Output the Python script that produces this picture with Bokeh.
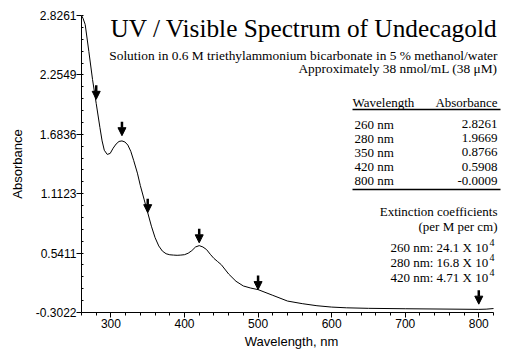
from bokeh.plotting import figure
from bokeh.models import (Range1d, FixedTicker, Label, Arrow, NormalHead, ColumnDataSource)
from bokeh.embed import file_html
from bokeh.resources import INLINE

# ---- data ----
wavelength = [260, 262, 265, 270, 275, 280, 285, 288, 291, 295, 299, 303, 307, 311, 315, 319,
              323, 327, 331, 336, 340, 345, 350, 355, 360, 365, 370, 375, 380, 385, 390, 395,
              400, 405, 410, 415, 420, 425, 430, 435, 440, 445, 450, 460, 470, 480, 490, 500,
              520, 540, 560, 580, 600, 620, 650, 700, 750, 800, 810, 820]
absorbance = [2.8261, 2.80, 2.74, 2.48, 2.21, 1.98, 1.75, 1.62, 1.53, 1.49, 1.50, 1.55, 1.59,
              1.615, 1.62, 1.61, 1.58, 1.52, 1.43, 1.31, 1.19, 1.06, 0.93, 0.80, 0.69, 0.61,
              0.56, 0.535, 0.525, 0.522, 0.52, 0.522, 0.526, 0.54, 0.565, 0.60, 0.613, 0.60,
              0.575, 0.53, 0.49, 0.46, 0.43, 0.34, 0.27, 0.225, 0.205, 0.19, 0.135, 0.08,
              0.055, 0.035, 0.022, 0.015, 0.010, 0.006, 0.003, 0.000, 0.002, 0.008]

arrow_nm = [280, 315, 350, 420, 500, 800]
arrow_tip = [2.02, 1.67, 0.93, 0.64, 0.19, 0.05]

y_ticks = [-0.0301, 0.5411, 1.1123, 1.6836, 2.2549, 2.8261]
y_tick_labels = ["-0.3022", "0.5411", "1.1123", "1.6836", "2.2549", "2.8261"]
x_ticks = [300, 400, 500, 600, 700, 800]

title_text = "UV / Visible Spectrum of Undecagold"
subtitle_lines = ["Solution in 0.6 M triethylammonium bicarbonate in 5 % methanol/water",
                  "Approximately 38 nmol/mL (38 \u03bcM)"]
table_header = ["Wavelength", "Absorbance"]
table_nm = ["260 nm", "280 nm", "350 nm", "420 nm", "800 nm"]
table_abs = ["2.8261", "1.9669", "0.8766", "0.5908", "-0.0009"]
ext_header = ["Extinction coefficients", "(per M per cm)"]
ext_lines = ["260 nm:  24.1 X 10", "280 nm:  16.8 X 10", "420 nm:  4.71 X 10"]
ext_exp = ["4", "4", "4"]

XMIN, XAXIS_END = 260, 820
YMIN, YMAX = y_ticks[0], y_ticks[-1]

# page-pixel layout (page has no margin in bokeh's template)
W, H = 508, 360
X0_PX, XEND_PX, X1_PX, Y0_PX, Y1_PX = 81, 493, 501, 15, 312
px_per_nm = (XEND_PX - X0_PX) / (XAXIS_END - XMIN)
XMAX = XMIN + (X1_PX - X0_PX) / px_per_nm

p = figure(width=W, height=H, output_backend="svg", toolbar_location=None,
           x_range=Range1d(XMIN, XMAX), y_range=Range1d(YMIN, YMAX),
           min_border_left=X0_PX, min_border_right=W - X1_PX,
           min_border_top=Y0_PX, min_border_bottom=H - Y1_PX)
p.outline_line_color = None
p.grid.visible = False
p.background_fill_color = "white"

def dx(px):
    return XMIN + (px - X0_PX) / px_per_nm
def dy(py):
    return YMAX - (py - Y0_PX) * (YMAX - YMIN) / (Y1_PX - Y0_PX)
px_per_unit = (Y1_PX - Y0_PX) / (YMAX - YMIN)

p.line(wavelength, absorbance, line_color="black", line_width=1)

# arrows
arrow_len = 14 / px_per_unit
src = ColumnDataSource(dict(x=arrow_nm, y1=arrow_tip, y0=[t + arrow_len for t in arrow_tip]))
p.add_layout(Arrow(end=NormalHead(size=8, fill_color="black", line_color="black", line_width=1),
                   x_start="x", y_start="y0", x_end="x", y_end="y1", source=src,
                   line_color="black", line_width=2.5))

# axes
sans = "Liberation Sans"
yax = p.yaxis[0]
yax.ticker = FixedTicker(ticks=y_ticks,
                         minor_ticks=[YMIN + i * (YMAX - YMIN) / 25 for i in range(26)])
yax.major_label_overrides = {v: l for v, l in zip(y_ticks, y_tick_labels)}
xax = p.xaxis[0]
xax.ticker = FixedTicker(ticks=x_ticks, minor_ticks=list(range(260, 821, 20)))
xax.bounds = (XMIN, XAXIS_END)
for ax in (xax, yax):
    ax.axis_line_color = "black"
    ax.axis_line_width = 1
    ax.major_tick_line_color = "black"
    ax.minor_tick_line_color = "black"
    ax.major_tick_out = 5
    ax.major_tick_in = 0
    ax.major_label_text_font = sans
    ax.major_label_text_font_size = "12px"
    ax.major_label_text_color = "black"
    ax.axis_label_text_font = sans
    ax.axis_label_text_font_size = "13px"
    ax.axis_label_text_font_style = "normal"
    ax.axis_label_text_color = "black"
xax.minor_tick_out = 3
xax.minor_tick_in = 0
yax.minor_tick_out = 0
yax.minor_tick_in = 2
xax.axis_label = "Wavelength, nm"
yax.axis_label = "Absorbance"
xax.major_label_standoff = 1
xax.axis_label_standoff = 3
yax.major_label_standoff = 0
yax.axis_label_standoff = 8

serif = "Liberation Serif"
def lab(px, py, text, size, align="right"):
    p.add_layout(Label(x=dx(px), y=dy(py), text=text, text_font=serif,
                       text_font_size=f"{size}px", text_align=align,
                       text_baseline="alphabetic", text_color="black"))

RIGHT = 497
lab(RIGHT, 27, title_text, 25.3)
lab(RIGHT, 55, subtitle_lines[0], 13.4)
lab(RIGHT, 68, subtitle_lines[1], 13.4)

lab(352, 102, table_header[0], 13, "left")
lab(RIGHT, 102, table_header[1], 13)
for i, (a, b) in enumerate(zip(table_nm, table_abs)):
    base = 123.5 + i * 14.2
    lab(354, base, a, 13, "left")
    lab(RIGHT, base, b, 13)

for py in (109, 189):
    p.add_layout(Arrow(end=None, x_start=dx(352), x_end=dx(500), y_start=dy(py), y_end=dy(py),
                       line_color="black", line_width=1.5))

lab(RIGHT, 211, ext_header[0], 13)
lab(RIGHT, 225.5, ext_header[1], 13)
for i, (t, e) in enumerate(zip(ext_lines, ext_exp)):
    base = 247 + i * 15
    lab(RIGHT - 6, base, t, 13)
    lab(RIGHT - 8, base - 5, e, 10, "left")

open("out.html", "w").write(file_html(p, INLINE))
